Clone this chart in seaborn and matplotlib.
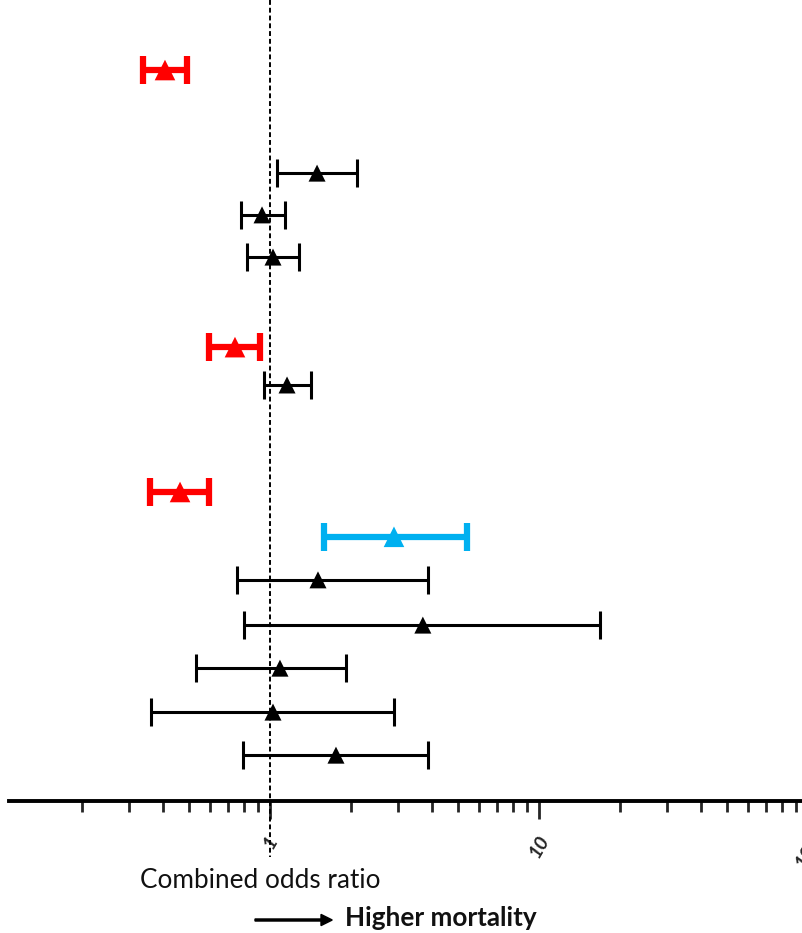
import numpy as np
import pandas as pd
import matplotlib
matplotlib.use("Agg")
import matplotlib.pyplot as plt
import seaborn as sns
from matplotlib.ticker import LogLocator, NullFormatter, FixedLocator, FixedFormatter

# ---- data ----
row_pos = [1.61, 3.98, 4.94, 5.91, 7.98, 8.85, 11.31, 12.34, 13.33, 14.37, 15.36, 16.37, 17.36]
odds = [0.407, 1.496, 0.934, 1.026, 0.741, 1.157, 0.463, 2.89, 1.508, 3.70, 1.089, 1.026, 1.759]
ci_low = [0.337, 1.06, 0.78, 0.821, 0.593, 0.95, 0.358, 1.587, 0.754, 0.80, 0.531, 0.361, 0.794]
ci_high = [0.491, 2.105, 1.137, 1.282, 0.918, 1.42, 0.593, 5.40, 3.87, 16.8, 1.917, 2.89, 3.87]
group = ["pooled", "study", "study", "study", "pooled", "study", "pooled", "highlight",
         "study", "study", "study", "study", "study"]
tick_vals = [1, 10, 100]
tick_labels = ["1", "10", "100"]

palette = {"pooled": "#FF0000", "highlight": "#00B0F0", "study": "#000000"}

df = pd.DataFrame({"row": row_pos, "odds": odds, "lo": ci_low, "hi": ci_high, "group": group})

sns.set_style("white")
plt.rcParams["font.family"] = ["Lato", "DejaVu Sans"]

fig = plt.figure(figsize=(8.03, 9.33), dpi=100)
ax = fig.add_axes([9 / 803, 1 - 801 / 933, (808 - 9) / 803, 801 / 933])

for g, sub in df.groupby("group"):
    thick = g != "study"
    ax.errorbar(sub["odds"], sub["row"],
                xerr=[sub["odds"] - sub["lo"], sub["hi"] - sub["odds"]],
                fmt="none", ecolor=palette[g],
                elinewidth=4.5 if thick else 2.2,
                capsize=10,
                capthick=4.5 if thick else 2.2, zorder=3)

sns.scatterplot(data=df[df.group == "study"], x="odds", y="row", hue="group",
                palette=palette, marker="^", s=150, edgecolor="none",
                legend=False, ax=ax, zorder=4)
sns.scatterplot(data=df[df.group != "study"], x="odds", y="row", hue="group",
                palette=palette, marker="^", s=220, edgecolor="none",
                legend=False, ax=ax, zorder=4)

ax.set_xscale("log")
ax.set_xlim(10 ** ((9 - 270) / 269), 100)
ax.set_ylim(801 / 43.5, 0)

# reference line at OR = 1
ax.plot([1, 1], [0, 857 / 43.5], color="black", lw=1.4, ls=(0, (2.5, 1.5)),
        clip_on=False, zorder=2)

for s in ["left", "right", "top"]:
    ax.spines[s].set_visible(False)
ax.spines["bottom"].set_linewidth(2.8)
ax.spines["bottom"].set_color("black")

ax.set_yticks([])
ax.set_ylabel("")
ax.set_xlabel("")
ax.xaxis.set_major_locator(FixedLocator(tick_vals))
ax.xaxis.set_major_formatter(FixedFormatter(tick_labels))
ax.xaxis.set_minor_locator(LogLocator(base=10, subs=np.arange(2, 10)))
ax.xaxis.set_minor_formatter(NullFormatter())
ax.tick_params(axis="x", which="major", direction="out", length=13, width=2,
               bottom=True, labelsize=14, pad=10)
ax.tick_params(axis="x", which="minor", direction="out", length=8, width=2, bottom=True)
for lab in ax.get_xticklabels():
    lab.set_rotation(60)
    lab.set_style("italic")
    lab.set_fontweight("bold")
    lab.set_ha("center")
    lab.set_va("top")

fig.text(140 / 803, 1 - 880 / 933, "Combined odds ratio", fontsize=18.8,
         ha="left", va="center", color="#111111")
fig.patches.append(matplotlib.patches.FancyArrow(
    255 / 803, 1 - 920 / 933, 66 / 803, 0, width=0.0022, head_width=0.012,
    head_length=0.014, color="black", transform=fig.transFigure, figure=fig,
    length_includes_head=False))
fig.text(345 / 803, 1 - 918 / 933, "Higher mortality", fontsize=18.8, fontweight="bold",
         ha="left", va="center", color="#111111")

fig.savefig("out.png", dpi=100)
